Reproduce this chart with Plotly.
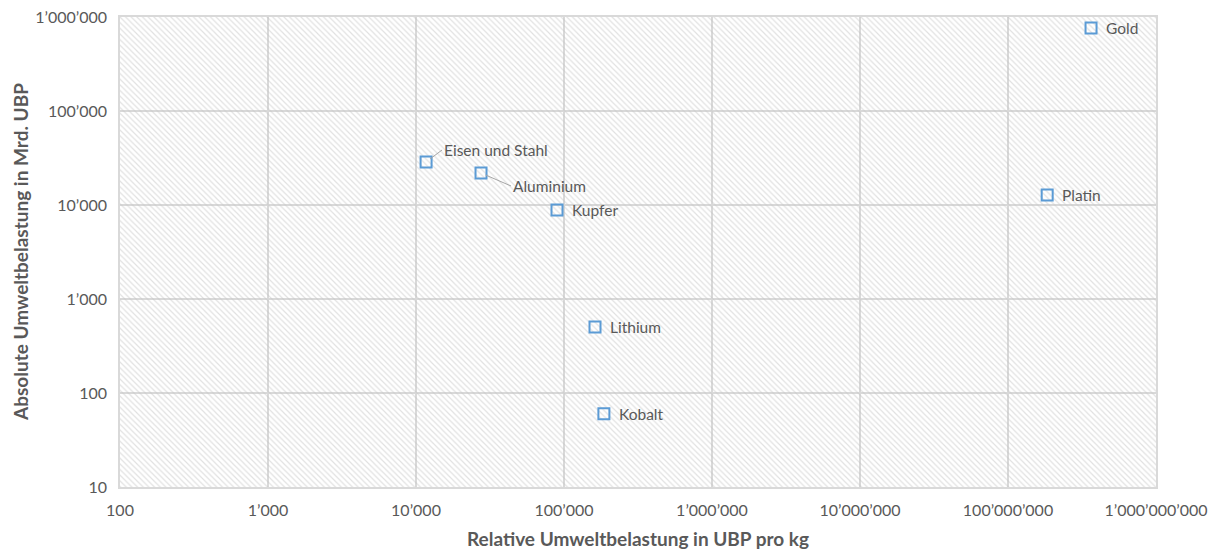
import math
import plotly.graph_objects as go

names = ["Gold", "Eisen und Stahl", "Aluminium", "Kupfer", "Lithium", "Kobalt", "Platin"]
rel_ubp_per_kg = [3.64e8, 11700, 27500, 89700, 162000, 186000, 1.84e8]
abs_mrd_ubp = [764000, 28700, 21900, 8850, 504, 60, 12800]

x_tickvals = [1e2, 1e3, 1e4, 1e5, 1e6, 1e7, 1e8, 1e9]
x_ticktext = ["100", "1’000", "10’000", "100’000", "1’000’000", "10’000’000",
              "100’000’000", "1’000’000’000"]
y_tickvals = [1e1, 1e2, 1e3, 1e4, 1e5, 1e6]
y_ticktext = ["10", "100", "1’000", "10’000", "100’000", "1’000’000"]

x_range = [x_tickvals[0], x_tickvals[-1]]
y_range = [y_tickvals[0], y_tickvals[-1]]

# leader-line offsets (pixels) for labels with connector lines
leaders = {"Eisen und Stahl": (16, -12), "Aluminium": (30, 13)}

FONT = "Lato, 'Open Sans', sans-serif"
GRAY = "#595959"

fig = go.Figure()

# hatched plot-area background
fig.add_trace(go.Scatter(
    x=[x_range[0], x_range[1], x_range[1], x_range[0], x_range[0]],
    y=[y_range[0], y_range[0], y_range[1], y_range[1], y_range[0]],
    mode="lines", fill="toself", line=dict(width=0),
    fillcolor="rgba(0,0,0,0)",
    fillpattern=dict(shape="\\", fgcolor="#c4c4c4", bgcolor="rgba(0,0,0,0)",
                     size=4, solidity=0.3, fillmode="overlay"),
    hoverinfo="skip", showlegend=False,
))

fig.add_trace(go.Scatter(
    x=rel_ubp_per_kg, y=abs_mrd_ubp, mode="markers",
    marker=dict(symbol="square-open", size=11, color="#5b9bd5",
                line=dict(width=2, color="#5b9bd5")),
    showlegend=False, text=names,
))

for n, xv, yv in zip(names, rel_ubp_per_kg, abs_mrd_ubp):
    lx, ly = math.log10(xv), math.log10(yv)
    if n in leaders:
        ax, ay = leaders[n]
        fig.add_annotation(x=lx, y=ly, xref="x", yref="y", text=n,
                           showarrow=True, arrowhead=0, arrowwidth=1,
                           arrowcolor="#a6a6a6", ax=ax, ay=ay,
                           xanchor="left", yanchor="middle", standoff=5,
                           font=dict(family=FONT, size=15.5, color=GRAY))
    else:
        fig.add_annotation(x=lx, y=ly, xref="x", yref="y", text=n,
                           showarrow=False, xanchor="left", yanchor="middle",
                           xshift=13,
                           font=dict(family=FONT, size=15.5, color=GRAY))

# y-axis title as annotation for precise placement
fig.add_annotation(x=0, y=0.5, xref="paper", yref="paper",
                   text="<b>Absolute Umweltbelastung in Mrd. UBP</b>",
                   textangle=-90, showarrow=False, xanchor="center",
                   yanchor="middle", xshift=-100,
                   font=dict(family=FONT, size=19, color=GRAY))

axis_common = dict(
    type="log", showgrid=True, gridcolor="#d9d9d9", gridwidth=1.5,
    showline=True, linecolor="#d9d9d9", linewidth=1.5, mirror=True,
    ticks="", zeroline=False, automargin=False,
    tickfont=dict(family=FONT, size=16, color=GRAY),
)

fig.update_xaxes(**axis_common, range=[2, 9], tickvals=x_tickvals,
                 ticktext=x_ticktext, ticklabelstandoff=8,
                 title=dict(text="<b>Relative Umweltbelastung in UBP pro kg</b>",
                            font=dict(family=FONT, size=19, color=GRAY)))
fig.update_yaxes(**axis_common, range=[1, 6], tickvals=y_tickvals,
                 ticktext=y_ticktext, ticklabelstandoff=8)

fig.update_layout(
    width=1218, height=550,
    margin=dict(l=120, r=62, t=17, b=63),
    plot_bgcolor="white", paper_bgcolor="white",
    font=dict(family=FONT, color=GRAY),
)

fig.write_html("out.html")
